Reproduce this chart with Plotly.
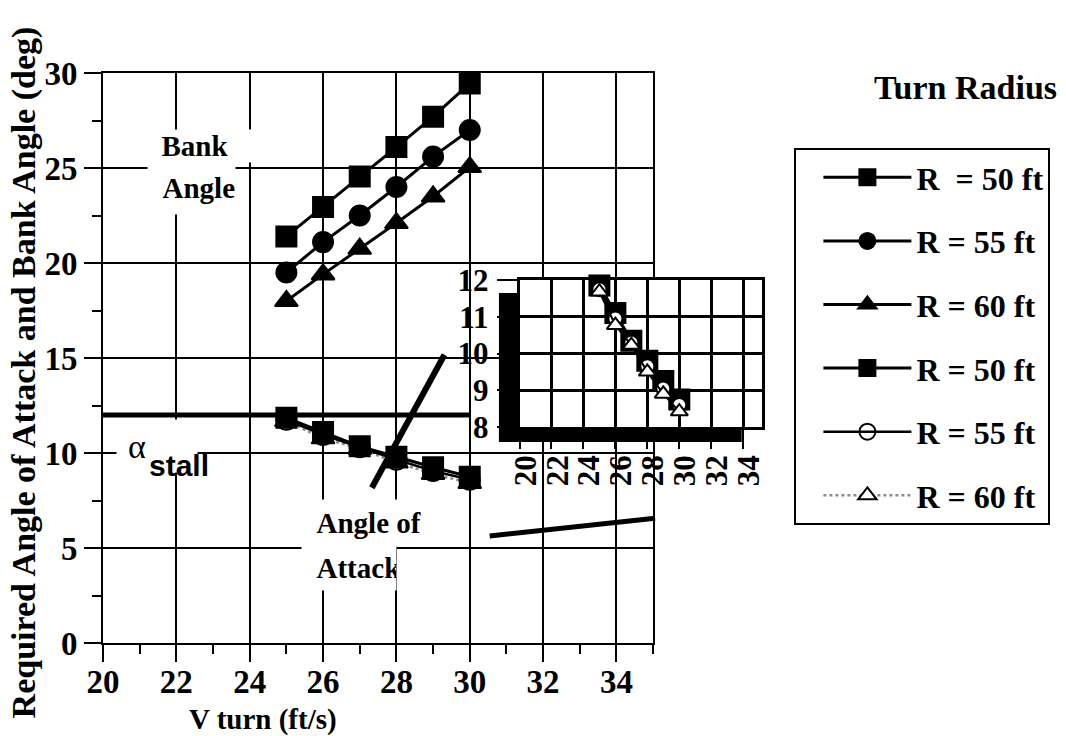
import plotly.graph_objects as go

# ---- data -------------------------------------------------------------
v_turn = [25, 26, 27, 28, 29, 30]

bank_r50 = [21.4, 22.95, 24.55, 26.1, 27.7, 29.45]
bank_r55 = [19.5, 21.1, 22.5, 24.0, 25.6, 27.0]
bank_r60 = [18.0, 19.4, 20.75, 22.1, 23.5, 25.05]

aoa_r50 = [11.85, 11.1, 10.35, 9.8, 9.25, 8.75]
aoa_r55 = [11.75, 10.95, 10.3, 9.65, 9.05, 8.6]
aoa_r60 = [11.68, 10.77, 10.23, 9.5, 8.9, 8.42]

alpha_stall = 12.0
stall_span = [20, 30]

legend_labels = ["R\u00a0 = 50 ft", "R = 55 ft", "R = 60 ft",
                 "R = 50 ft", "R = 55 ft", "R = 60 ft"]

x_ticks = [20, 22, 24, 26, 28, 30, 32, 34]
y_ticks = [0, 5, 10, 15, 20, 25, 30]
inset_y_ticks = [8, 9, 10, 11, 12]

# ---- page geometry (pixels) ------------------------------------------
W, H = 1066, 736
ML, MR, MT, MB = 103, 0, 73, 93
PW, PH = W - ML - MR, H - MT - MB


def px(x):
    return (x - ML) / PW


def py(y):
    return (H - MB - y) / PH


SERIF = "Palatino Linotype, Book Antiqua, Liberation Serif, serif"
SANS = "Liberation Sans, Arial, sans-serif"
BLACK = "black"
GREY = "#8c8c8c"

fig = go.Figure()


def add_series(x, y, name, symbol, rank, xa="x", ya="y", size=20,
               color=BLACK, fill=BLACK, lw=3, dash="solid", show=True):
    fig.add_trace(go.Scatter(
        x=x, y=y, name=name, mode="lines+markers",
        xaxis=xa, yaxis=ya, showlegend=show,
        legendrank=rank, legendgroup=f"g{rank}",
        line=dict(color=color, width=lw, dash=dash),
        marker=dict(symbol=symbol, size=size, color=fill,
                    line=dict(color=BLACK, width=2)),
        cliponaxis=False,
    ))


# bank angle
add_series(v_turn, bank_r50, legend_labels[0], "square", 1)
add_series(v_turn, bank_r55, legend_labels[1], "circle", 2)
add_series(v_turn, bank_r60, legend_labels[2], "triangle-up", 3)

# stall angle of attack
fig.add_trace(go.Scatter(
    x=stall_span, y=[alpha_stall, alpha_stall], mode="lines",
    line=dict(color=BLACK, width=5), showlegend=False, hoverinfo="skip"))

# angle of attack (squares drawn last so they sit on top)
add_series(v_turn, aoa_r60, legend_labels[5], "triangle-up", 6,
           color=GREY, lw=2.5, dash="dot", fill="white")
add_series(v_turn, aoa_r55, legend_labels[4], "circle-open", 5,
           lw=2.5, fill=BLACK)
add_series(v_turn, aoa_r50, legend_labels[3], "square", 4)

# inset: angle of attack close-up
add_series(v_turn, aoa_r50, "", "square", 7, "x2", "y2", size=20, show=False)
add_series(v_turn, aoa_r55, "", "circle", 8, "x2", "y2", size=14,
           fill="white", lw=2, show=False)
add_series(v_turn, aoa_r60, "", "triangle-up", 9, "x2", "y2", size=15,
           fill="white", lw=2, show=False)

tick_font = dict(family=SERIF, size=33, color=BLACK, weight="bold")
inset_font = dict(family=SERIF, size=31, color=BLACK, weight="bold")

fig.update_layout(
    width=W, height=H,
    margin=dict(l=ML, r=MR, t=MT, b=MB, pad=0),
    paper_bgcolor="white", plot_bgcolor="white",
    font=dict(family=SERIF, color=BLACK),
    xaxis=dict(
        domain=[0, px(656)], range=[20, 35],
        tickmode="array", tickvals=x_ticks, ticktext=[str(t) for t in x_ticks],
        ticks="outside", ticklen=17, tickwidth=2, tickcolor=BLACK,
        ticklabelstandoff=-9,
        minor=dict(tickmode="array", tickvals=[21, 23, 25, 27, 29, 31, 33, 35],
                   ticks="outside", ticklen=9, tickwidth=2, tickcolor=BLACK,
                   showgrid=False),
        showgrid=True, gridcolor=BLACK, gridwidth=2,
        showline=True, mirror=True, linecolor=BLACK, linewidth=2,
        zeroline=False, tickfont=tick_font,
    ),
    yaxis=dict(
        domain=[0, 1], range=[0, 30],
        tickmode="array", tickvals=y_ticks, ticktext=[str(t) for t in y_ticks],
        ticks="outside", ticklen=17, tickwidth=2, tickcolor=BLACK,
        minor=dict(tickmode="array", tickvals=[2.5, 7.5, 12.5, 17.5, 22.5, 27.5],
                   ticks="outside", ticklen=9, tickwidth=2, tickcolor=BLACK,
                   showgrid=False),
        showgrid=True, gridcolor=BLACK, gridwidth=2,
        showline=True, mirror=True, linecolor=BLACK, linewidth=2,
        zeroline=False, tickfont=tick_font,
    ),
    xaxis2=dict(
        domain=[px(521.7), px(765)], range=[20, 35.15], anchor="y2",
        tickmode="array", tickvals=x_ticks, ticktext=[str(t) for t in x_ticks],
        ticks="outside", ticklen=19, tickwidth=2, tickcolor=BLACK,
        tickangle=-90, ticklabelstandoff=-6, ticklabelshift=6,
        showgrid=True, gridcolor=BLACK, gridwidth=2.5,
        showline=True, mirror=True, linecolor=BLACK, linewidth=2.5,
        zeroline=False, tickfont=inset_font,
    ),
    yaxis2=dict(
        domain=[py(427), py(280)], range=[8, 12], anchor="x2",
        tickmode="array", tickvals=inset_y_ticks,
        ticktext=[str(t) for t in inset_y_ticks],
        ticks="outside", ticklen=20, tickwidth=2, tickcolor=BLACK,
        ticklabelstandoff=2,
        showgrid=True, gridcolor=BLACK, gridwidth=2.5,
        showline=True, mirror=True, linecolor=BLACK, linewidth=2.5,
        zeroline=False, tickfont=inset_font,
    ),
    legend=dict(
        x=px(798), y=py(148), xanchor="left", yanchor="top",
        bgcolor="white", bordercolor=BLACK, borderwidth=2,
        font=dict(family=SERIF, size=32, color=BLACK, weight="bold"),
        tracegroupgap=19, itemwidth=88, indentation=22,
        traceorder="grouped",
    ),
    showlegend=True,
)

# inset background hides the main grid behind it
fig.add_shape(type="rect", xref="x2", yref="y2", x0=18, x1=36, y0=7, y1=13,
              fillcolor="white", line=dict(width=0), layer="below")
# heavy inset axis bars
fig.add_shape(type="rect", xref="x2 domain", yref="y2 domain",
              x0=-0.085, x1=0.0, y0=-0.102, y1=0.912,
              fillcolor=BLACK, line=dict(width=0), layer="above")
fig.add_shape(type="rect", xref="x2 domain", yref="y2 domain",
              x0=-0.085, x1=0.918, y0=-0.102, y1=0.0,
              fillcolor=BLACK, line=dict(width=0), layer="above")

# pointer lines from the angle-of-attack curves to the inset
fig.add_shape(type="line", xref="x", yref="y", x0=27.33, y0=8.17, x1=29.31, y1=15.17,
              line=dict(color=BLACK, width=6), layer="above")
fig.add_shape(type="line", xref="paper", yref="paper",
              x0=px(491.7), y0=py(536), x1=px(658), y1=py(518.3),
              line=dict(color=BLACK, width=5), layer="above")


def note(text, x, y, font, **kw):
    fig.add_annotation(text=text, xref="paper", yref="paper",
                       x=px(x), y=py(y), xanchor="center", yanchor="middle",
                       showarrow=False, font=font, **kw)


lab_font = dict(family=SERIF, size=29, color=BLACK, weight="bold")


def box_label(text, x0, x1, y0, y1):
    note(text, (x0 + x1) / 2, (y0 + y1) / 2, lab_font,
         width=x1 - x0, height=y1 - y0, align="left", valign="middle",
         bgcolor="white", borderpad=0)


box_label("\u00a0\u00a0Bank", 148, 255, 130, 162)
box_label("\u00a0\u00a0Angle", 148, 235, 162, 214)
box_label("\u00a0\u00a0Angle of", 303, 430, 500, 546)
box_label("\u00a0\u00a0Attack", 303, 397, 546, 590)

# alpha stall label
note(" ", 157, 446, dict(size=10), width=80, height=52,
     bgcolor="white", borderpad=0)
note("α", 137, 446, dict(family=SERIF, size=34, color=BLACK))
note("stall", 179, 466, dict(family=SANS, size=30, color=BLACK, weight="bold"))

# titles
note("Turn Radius", 970, 88, dict(family=SERIF, size=34, color=BLACK, weight="bold"))
note("V turn (ft/s)", 264, 719, dict(family=SERIF, size=29, color=BLACK, weight="bold"))
note("Required Angle of Attack and Bank Angle (deg)", 24, 372,
     dict(family=SERIF, size=34, color=BLACK, weight="bold"), textangle=-90)

fig.write_html("out.html")
